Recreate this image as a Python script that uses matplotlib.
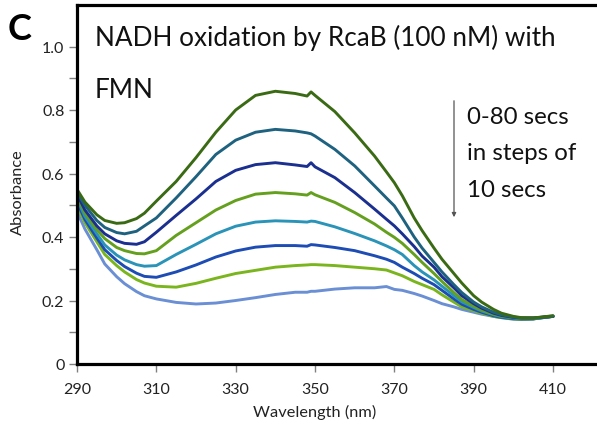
import matplotlib
matplotlib.use("Agg")
import matplotlib.pyplot as plt
from matplotlib.ticker import FixedLocator

plt.rcParams['font.family'] = ['Lato', 'DejaVu Sans']

wavelength = [290, 292, 295, 297, 300, 302, 305, 307, 310, 315, 320, 325, 330, 335, 340, 345, 348, 349,
              350, 355, 360, 365, 368, 370, 372, 375, 377, 380, 382, 385, 387, 390, 392, 395, 397,
              400, 402, 405, 410]

abs_0s  = [0.550, 0.510, 0.470, 0.452, 0.443, 0.445, 0.458, 0.475, 0.513, 0.575, 0.650, 0.730, 0.800, 0.846, 0.859, 0.852, 0.844, 0.857,
           0.846, 0.795, 0.728, 0.655, 0.605, 0.571, 0.530, 0.460, 0.420, 0.365, 0.330, 0.285, 0.255, 0.215, 0.195, 0.172, 0.160,
           0.150, 0.146, 0.145, 0.152]
abs_10s = [0.540, 0.500, 0.452, 0.430, 0.414, 0.410, 0.418, 0.435, 0.460, 0.523, 0.590, 0.660, 0.705, 0.730, 0.739, 0.734, 0.728, 0.725,
           0.718, 0.676, 0.624, 0.561, 0.523, 0.498, 0.460, 0.400, 0.365, 0.320, 0.290, 0.250, 0.225, 0.195, 0.180, 0.163, 0.155,
           0.148, 0.145, 0.145, 0.150]
abs_20s = [0.535, 0.485, 0.435, 0.410, 0.388, 0.380, 0.377, 0.385, 0.415, 0.468, 0.520, 0.575, 0.610, 0.628, 0.634, 0.627, 0.622, 0.634,
           0.621, 0.587, 0.540, 0.488, 0.456, 0.435, 0.410, 0.370, 0.340, 0.305, 0.275, 0.240, 0.215, 0.190, 0.176, 0.160, 0.153,
           0.147, 0.145, 0.145, 0.150]
abs_30s = [0.530, 0.475, 0.423, 0.395, 0.367, 0.357, 0.348, 0.347, 0.357, 0.405, 0.445, 0.485, 0.515, 0.535, 0.540, 0.536, 0.532, 0.540,
           0.533, 0.509, 0.477, 0.441, 0.415, 0.399, 0.380, 0.345, 0.320, 0.285, 0.260, 0.225, 0.203, 0.182, 0.170, 0.157, 0.151,
           0.146, 0.144, 0.144, 0.150]
abs_40s = [0.520, 0.465, 0.410, 0.375, 0.343, 0.328, 0.313, 0.308, 0.310, 0.345, 0.377, 0.410, 0.434, 0.447, 0.451, 0.449, 0.447, 0.450,
           0.449, 0.432, 0.411, 0.388, 0.372, 0.360, 0.345, 0.310, 0.290, 0.265, 0.245, 0.215, 0.196, 0.178, 0.167, 0.155, 0.149,
           0.145, 0.143, 0.143, 0.150]
abs_50s = [0.510, 0.455, 0.397, 0.360, 0.326, 0.307, 0.286, 0.276, 0.273, 0.290, 0.312, 0.337, 0.356, 0.368, 0.373, 0.373, 0.371, 0.376,
           0.375, 0.367, 0.357, 0.341, 0.330, 0.320, 0.305, 0.285, 0.270, 0.250, 0.232, 0.205, 0.188, 0.172, 0.163, 0.152, 0.147,
           0.143, 0.142, 0.142, 0.150]
abs_60s = [0.500, 0.445, 0.385, 0.345, 0.310, 0.290, 0.266, 0.255, 0.245, 0.242, 0.254, 0.270, 0.285, 0.295, 0.305, 0.310, 0.312, 0.313,
           0.313, 0.310, 0.305, 0.300, 0.296, 0.287, 0.278, 0.260, 0.250, 0.235, 0.218, 0.195, 0.180, 0.168, 0.160, 0.150, 0.146,
           0.142, 0.141, 0.142, 0.150]
abs_70s = [0.480, 0.425, 0.360, 0.315, 0.275, 0.253, 0.228, 0.215, 0.205, 0.194, 0.189, 0.192, 0.200, 0.209, 0.219, 0.226, 0.226, 0.229,
           0.229, 0.236, 0.240, 0.240, 0.244, 0.235, 0.232, 0.222, 0.214, 0.200, 0.190, 0.180, 0.172, 0.163, 0.157, 0.150, 0.146,
           0.141, 0.140, 0.142, 0.152]

series = [abs_0s, abs_10s, abs_20s, abs_30s, abs_40s, abs_50s, abs_60s, abs_70s]
colors = ["#3a6b14", "#1e6280", "#1a2f8f", "#64a01e", "#2a93b8", "#1c4cb4", "#7ab51e", "#6a8fd4"]

x_ticks = [290, 310, 330, 350, 370, 390, 410]
y_ticks = [0, 0.2, 0.4, 0.6, 0.8, 1.0]
y_tick_labels = ["0", "0.2", "0.4", "0.6", "0.8", "1.0"]
y_minor = [0.1, 0.3, 0.5, 0.7, 0.9]

W, H = 597, 431
fig = plt.figure(figsize=(W / 100, H / 100), dpi=100)
ax = fig.add_axes([77 / W, (H - 365) / H, (W - 77) / W, (365 - 6) / H])

for vals, col in list(zip(series, colors))[::-1]:
    ax.plot(wavelength, vals, color=col, lw=2.1, solid_joinstyle='round', solid_capstyle='round')

ax.set_xlim(290, 290 + 520 / 3.967)
ax.set_ylim(0, 359 / 317.5)

ax.set_xticks(x_ticks)
ax.set_xticklabels([str(t) for t in x_ticks])
ax.set_yticks(y_ticks)
ax.set_yticklabels(y_tick_labels)
ax.yaxis.set_minor_locator(FixedLocator(y_minor))

for side in ['left', 'bottom', 'top']:
    ax.spines[side].set_linewidth(2.3)
    ax.spines[side].set_color('black')
ax.spines['right'].set_visible(False)

ax.tick_params(axis='both', which='both', direction='out', length=6, width=1,
               color='#808080', labelsize=11.5, labelcolor='#222222')
ax.tick_params(axis='x', pad=7)
ax.tick_params(axis='y', pad=3)

def ftext(x, y, s, **kw):
    fig.text(x / W, 1 - y / H, s, **kw)

ftext(8, 30, "C", fontsize=26, fontweight='bold', va='center', ha='left')
ftext(95, 38, "NADH oxidation by RcaB (100 nM) with", fontsize=18.8, va='center', ha='left', color='#111111')
ftext(95, 91, "FMN", fontsize=18.8, va='center', ha='left', color='#111111')
ftext(467, 117, "0-80 secs", fontsize=17.3, va='center', ha='left', color='#111111')
ftext(467, 154, "in steps of", fontsize=17.3, va='center', ha='left', color='#111111')
ftext(467, 191, "10 secs", fontsize=17.3, va='center', ha='left', color='#111111')
ftext(315, 412, "Wavelength (nm)", fontsize=11.8, va='center', ha='center', color='#222222')
ftext(18, 192, "Absorbance", fontsize=11.8, va='center', ha='center', rotation=90, color='#222222')

fig.add_artist(matplotlib.patches.FancyArrowPatch(
    (454 / W, 1 - 99 / H), (454 / W, 1 - 221 / H), transform=fig.transFigure,
    arrowstyle='-|>', mutation_scale=6, color='#555555', lw=0.9))

fig.savefig("out.png", dpi=100)
